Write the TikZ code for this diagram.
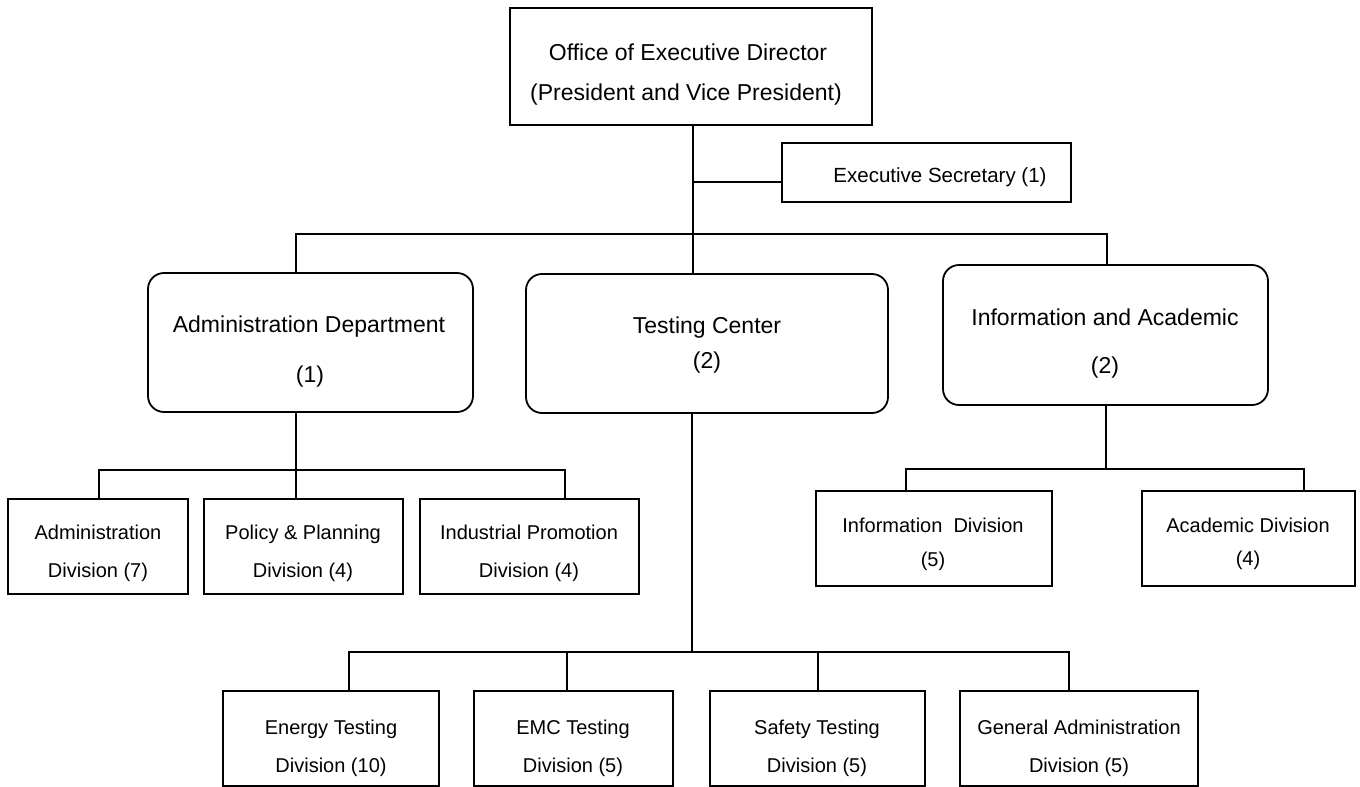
\documentclass[tikz,border=0pt]{standalone}
\usepackage{fontspec}
\setmainfont{Liberation Sans}
\usetikzlibrary{calc}
\begin{document}
\begin{tikzpicture}[x=1pt,y=-1pt,line width=1.8pt,
  sq/.style={draw,rectangle,inner sep=0pt,outer sep=0pt},
  rd/.style={sq,rounded corners=16pt},
  big/.style={font=\fontsize{23}{27}\selectfont,anchor=base,inner sep=0pt},
  mid/.style={font=\fontsize{20.5}{24}\selectfont,anchor=base,inner sep=0pt},
  sml/.style={font=\fontsize{20}{24}\selectfont,anchor=base,inner sep=0pt},
  conn/.style={draw,line width=1.8pt}]
\useasboundingbox (0,0) rectangle (1360,787);

% ---- boxes
\node[sq,minimum width=362pt,minimum height=117pt] (off) at (691,66.5) {};
\node[sq,minimum width=289pt,minimum height=59pt] (sec) at (926.5,172.5) {};
\node[rd,minimum width=325pt,minimum height=139pt] (adm) at (310.5,342.5) {};
\node[rd,minimum width=362pt,minimum height=139pt] (tst) at (707,343.5) {};
\node[rd,minimum width=325pt,minimum height=140pt] (inf) at (1105.5,335) {};
\node[sq,minimum width=180pt,minimum height=95pt] (ad1) at (98,546.5) {};
\node[sq,minimum width=199pt,minimum height=95pt] (ad2) at (303.5,546.5) {};
\node[sq,minimum width=219pt,minimum height=95pt] (ad3) at (529.5,546.5) {};
\node[sq,minimum width=236pt,minimum height=95pt] (ind) at (934,538.5) {};
\node[sq,minimum width=213pt,minimum height=95pt] (aca) at (1248.5,538.5) {};
\node[sq,minimum width=216pt,minimum height=95pt] (en) at (331,738.5) {};
\node[sq,minimum width=199pt,minimum height=95pt] (emc) at (573.5,738.5) {};
\node[sq,minimum width=215pt,minimum height=95pt] (saf) at (817.5,738.5) {};
\node[sq,minimum width=238pt,minimum height=95pt] (gen) at (1079,738.5) {};

% ---- texts
\node[big] (offa) at (688,60) {Office of Executive Director};
\node[big] (offb) at (686,100) {(President and Vice President)};
\node[mid] (seca) at (940,182) {Executive Secretary (1)};
\node[big] (adma) at (309,332) {Administration Department};
\node[big] (admb) at (310,382) {(1)};
\node[big] (tsta) at (707,333) {Testing Center};
\node[big] (tstb) at (707,368) {(2)};
\node[big] (infa) at (1105,325) {Information and Academic};
\node[big] (infb) at (1105,373) {(2)};
\node[sml] (ad1a) at (98,539) {Administration};
\node[sml] (ad1b) at (98,577) {Division (7)};
\node[sml] (ad2a) at (303,539) {Policy \& Planning};
\node[sml] (ad2b) at (303,577) {Division (4)};
\node[sml] (ad3a) at (529,539) {Industrial Promotion};
\node[sml] (ad3b) at (529,577) {Division (4)};
\node[sml] (inda) at (933,532) {Information\ \ Division};
\node[sml] (indb) at (933,566) {(5)};
\node[sml] (acaa) at (1248,532) {Academic Division};
\node[sml] (acab) at (1248,565) {(4)};
\node[sml] (ena) at (331,734) {Energy Testing};
\node[sml] (enb) at (331,772) {Division (10)};
\node[sml] (emca) at (573,734) {EMC Testing};
\node[sml] (emcb) at (573,772) {Division (5)};
\node[sml] (safa) at (817,734) {Safety Testing};
\node[sml] (safb) at (817,772) {Division (5)};
\node[sml] (gena) at (1079,734) {General Administration};
\node[sml] (genb) at (1079,772) {Division (5)};

% ---- junction coordinates
\coordinate (c0) at (693,234);
\coordinate (sj) at (693,182);
\coordinate (b1) at (296,234);
\coordinate (b3) at (1107,234);
\coordinate (a0) at (296,470);
\coordinate (a1) at (99,470);
\coordinate (a3) at (565,470);
\coordinate (i0) at (1106,469);
\coordinate (i1) at (906,469);
\coordinate (i2) at (1304,469);
\coordinate (t0) at (692,652);
\coordinate (t1) at (349,652);
\coordinate (t2) at (567,652);
\coordinate (t3) at (818,652);
\coordinate (t4) at (1069,652);

% ---- connectors
\draw[conn] (off.south -| c0) -- (c0) -- (c0 |- tst.north);
\draw[conn] (sj) -- (sj -| sec.west);
\draw[conn] (b1 |- adm.north) -- (b1) -- (b3) -- (b3 |- inf.north);
\draw[conn] (adm.south -| a0) -- (a0) -- (a0 |- ad2.north);
\draw[conn] (a1 |- ad1.north) -- (a1) -- (a3) -- (a3 |- ad3.north);
\draw[conn] (inf.south -| i0) -- (i0);
\draw[conn] (i1 |- ind.north) -- (i1) -- (i2) -- (i2 |- aca.north);
\draw[conn] (tst.south -| t0) -- (t0);
\draw[conn] (t1 |- en.north) -- (t1) -- (t4) -- (t4 |- gen.north);
\draw[conn] (t2) -- (t2 |- emc.north);
\draw[conn] (t3) -- (t3 |- saf.north);
\end{tikzpicture}
\end{document}
